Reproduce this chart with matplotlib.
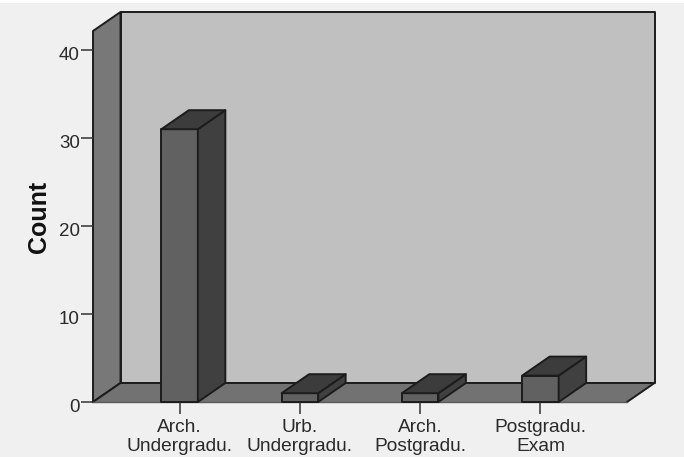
import matplotlib
matplotlib.use('Agg')
import matplotlib.pyplot as plt
from matplotlib.patches import Polygon, Rectangle
from matplotlib.transforms import ScaledTranslation

plt.rcParams['font.family'] = 'Liberation Sans'

categories = ['Arch.\nUndergradu.', 'Urb.\nUndergradu.', 'Arch.\nPostgradu.', 'Postgradu.\nExam']
counts = [31, 1, 1, 3]
y_ticks = [0, 10, 20, 30, 40]

W, H = 684, 457
edge = '#1c1c1c'

fig = plt.figure(figsize=(W/100, H/100), dpi=100, facecolor='#f0f0f0')
fig.patches.append(Rectangle((0, 1-3/H), 1, 3/H, transform=fig.transFigure, fc='white', ec='none'))

# front plane of the 3d box, in pixels
ax = fig.add_axes([93/W, 1-402/H, (627-93)/W, (402-31)/H])
ax.patch.set_visible(False)
for s in ax.spines.values():
    s.set_visible(False)
ax.set_xlim(-0.72, 3.72)
ax.set_ylim(0, 371/8.8)

x0, x1 = ax.get_xlim()
y0, y1 = ax.get_ylim()
dx = 27.5*(x1-x0)/534
dy = 19/8.8

def poly(pts, color, z=1, ec=edge):
    ax.add_patch(Polygon(pts, closed=True, fc=color, ec=ec, lw=1.4, zorder=z, clip_on=False, joinstyle='round'))

# walls and floor
poly([(x0+dx, y0+dy), (x1+dx, y0+dy), (x1+dx, y1+dy), (x0+dx, y1+dy)], '#c0c0c0')
poly([(x0, y0), (x0+dx, y0+dy), (x0+dx, y1+dy), (x0, y1)], '#787878')
poly([(x0, y0), (x1, y0), (x1+dx, y0+dy), (x0+dx, y0+dy)], '#727272', ec='none')
ax.plot([x0, x0+dx, x1+dx, x1], [y0, y0+dy, y0+dy, y0], color=edge, lw=1.4, zorder=2, clip_on=False)
ax.plot([x0, x1], [y0, y0], color='#5a5a5a', lw=1, zorder=2, clip_on=False)

bw = 36.5*(x1-x0)/534
for i, c in enumerate(counts):
    l, r = i-bw/2, i+bw/2
    poly([(l, 0), (r, 0), (r, c), (l, c)], '#616161', 3)
    poly([(r, 0), (r+dx, dy), (r+dx, c+dy), (r, c)], '#404040', 3)
    poly([(l, c), (r, c), (r+dx, c+dy), (l+dx, c+dy)], '#3c3c3c', 3)

ax.set_xticks(range(len(categories)), categories)
ax.set_yticks(y_ticks)
ax.tick_params(axis='x', length=8.6, width=1.1, color='#333333', labelsize=13.8, labelcolor='#2a2a2a', pad=4)
ax.tick_params(axis='y', length=9, width=1.1, color='#333333', labelsize=13.5, labelcolor='#2a2a2a', pad=0.5)
for lab in ax.get_xticklabels():
    lab.set_linespacing(1.1)
# y labels sit a little under their ticks
for lab in ax.get_yticklabels():
    lab.set_transform(lab.get_transform() + ScaledTranslation(0, -3/100, fig.dpi_scale_trans))
ax.set_ylabel('Count', fontsize=18, fontweight='bold', color='#111111', va='center')
ax.yaxis.set_label_coords((39-93)/534, (402-217)/371)

fig.savefig('out.png', dpi=100, facecolor=fig.get_facecolor())
